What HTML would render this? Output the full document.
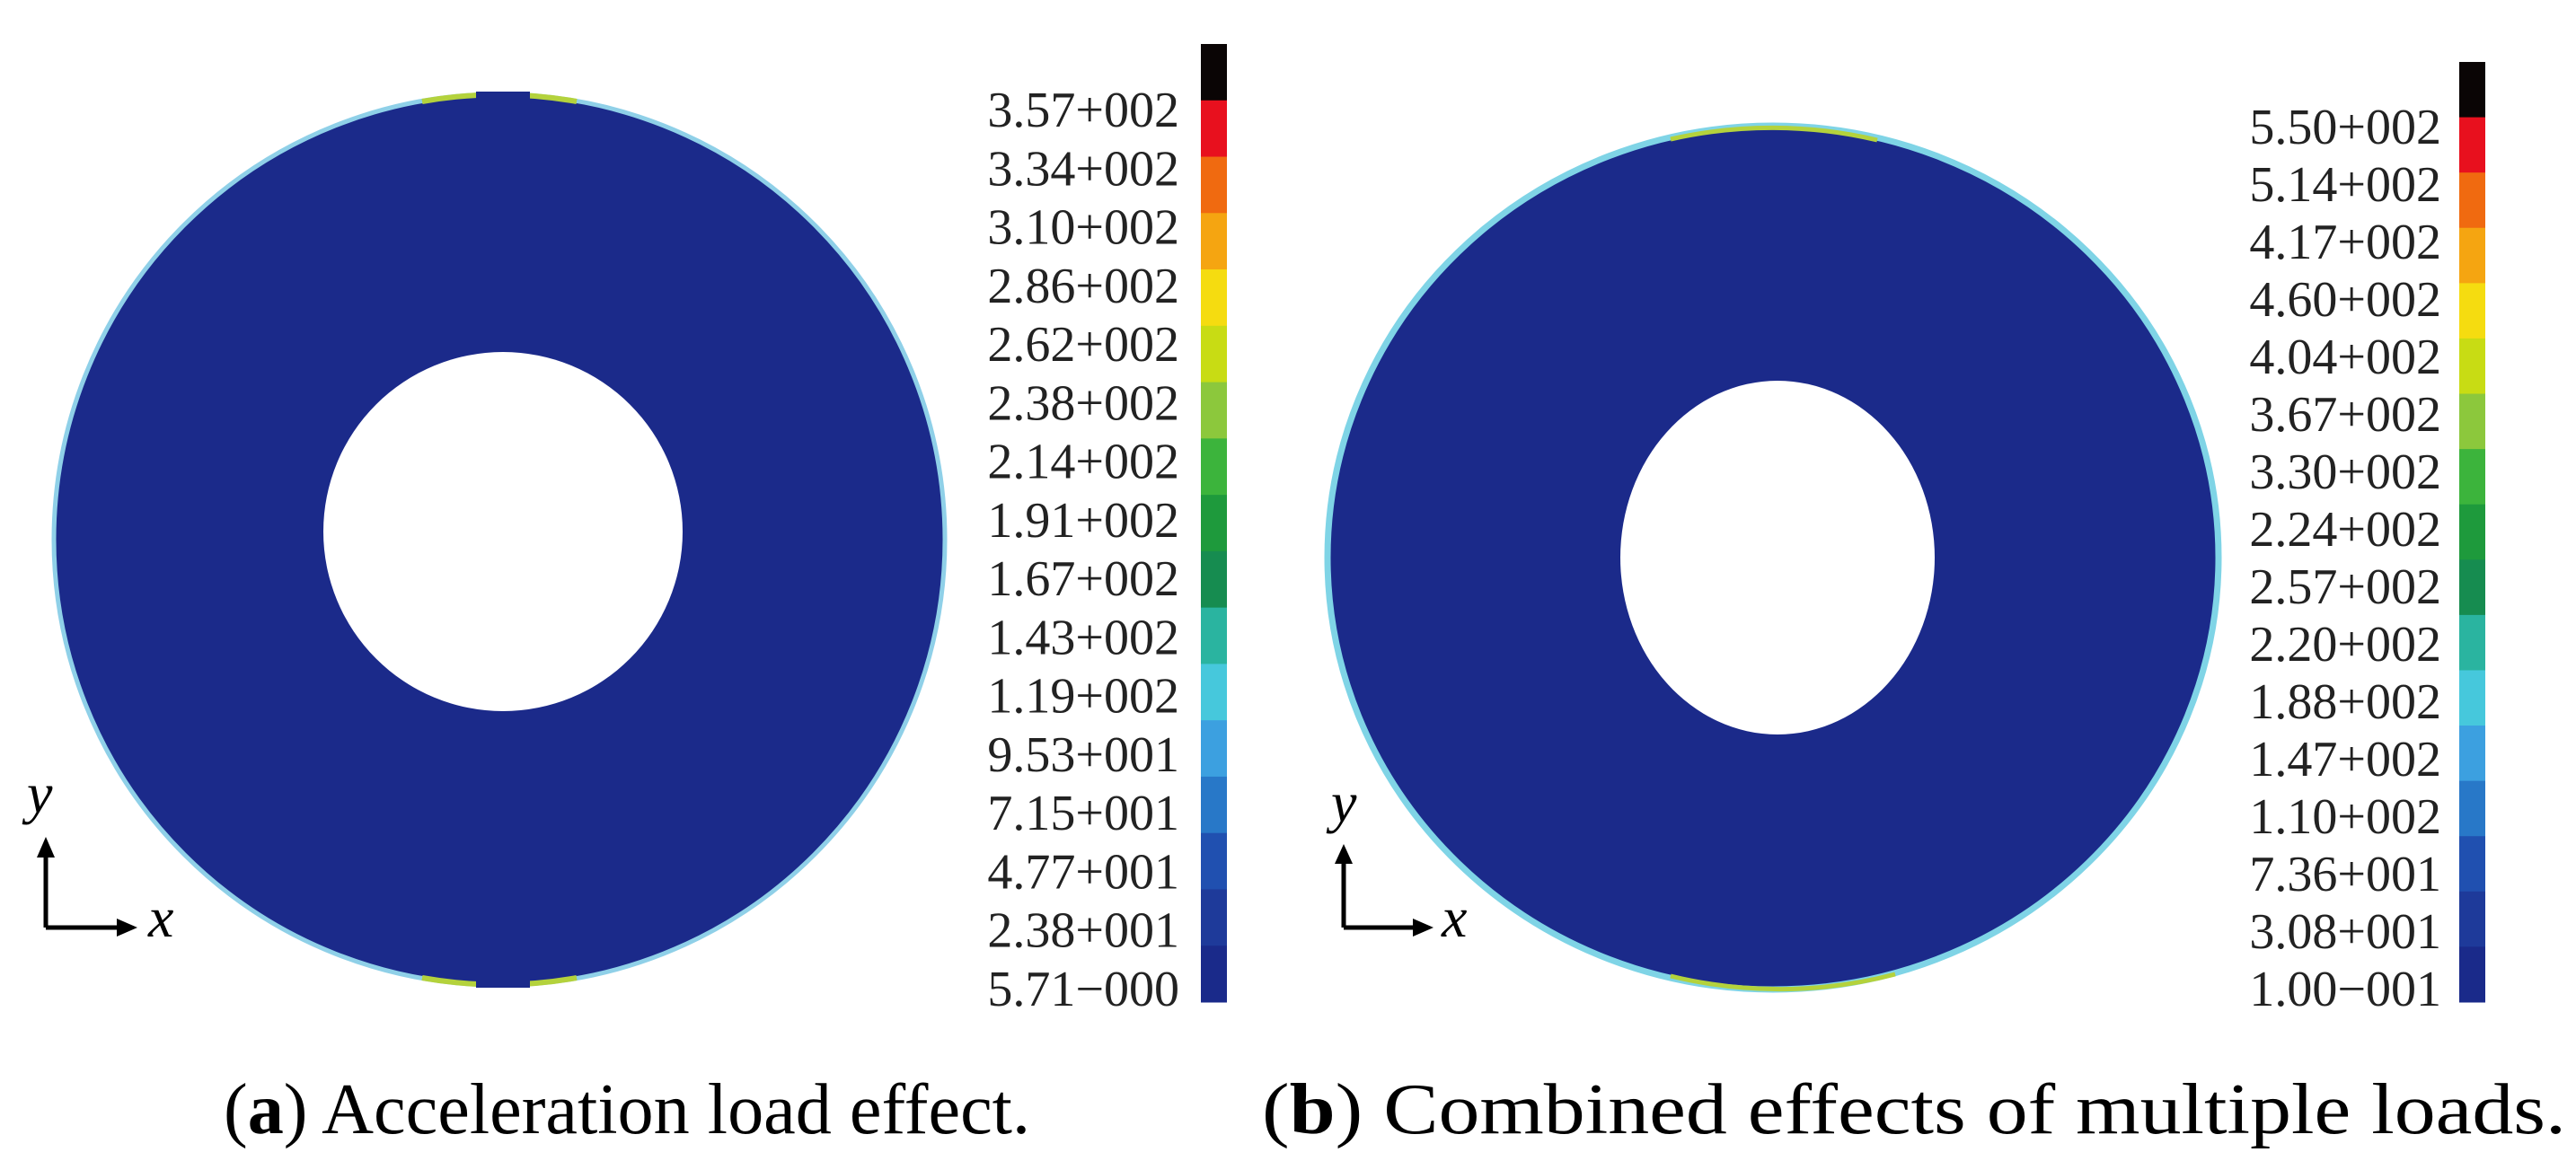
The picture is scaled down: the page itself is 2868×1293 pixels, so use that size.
<!DOCTYPE html>
<html><head><meta charset="utf-8"><style>
html,body{margin:0;padding:0;background:#fff;}
svg{display:block;}
text{font-family:"Liberation Serif",serif;}
</style></head><body>
<svg id="fig" width="2868" height="1293" viewBox="0 0 2868 1293" xmlns="http://www.w3.org/2000/svg">
  <g id="panelA">
    <circle cx="556" cy="601" r="496" fill="#1b2a8a" stroke="#8fd0e8" stroke-width="5"/>
    <path d="M470 113 A490 490 0 0 1 642 113" fill="none" stroke="#b4d23c" stroke-width="6"/>
    <path d="M470 1089 A490 490 0 0 0 642 1089" fill="none" stroke="#b4d23c" stroke-width="6"/>
    <rect x="530" y="102" width="60" height="16" fill="#1b2a8a"/>
    <rect x="530" y="1084" width="60" height="16" fill="#1b2a8a"/>
    <circle cx="560" cy="592" r="200" fill="#fff"/>
    <g>
      <text x="30" y="905" font-size="64" font-style="italic">y</text>
      <line x1="51" y1="950" x2="51" y2="1033" stroke="#000" stroke-width="5"/>
      <polygon points="41,955 51,932 61,955" fill="#000"/>
      <line x1="51" y1="1033" x2="135" y2="1033" stroke="#000" stroke-width="5"/>
      <polygon points="130,1023 153,1033 130,1043" fill="#000"/>
      <text x="165" y="1043" font-size="64" font-style="italic">x</text>
    </g>
    <g id="cbA"></g>
    <text x="249" y="1262" font-size="80" textLength="898" lengthAdjust="spacingAndGlyphs">(<tspan font-weight="bold">a</tspan>) Acceleration load effect.</text>
  </g>
  <g id="panelB">
    <ellipse cx="1974" cy="621" rx="496" ry="481" fill="#1b2a8a" stroke="#7fd4e6" stroke-width="7"/>
    <path d="M1860 155 A494 479 0 0 1 2090 156" fill="none" stroke="#b4d23c" stroke-width="5"/>
    <path d="M1860 1087 A494 479 0 0 0 2110 1085" fill="none" stroke="#b4d23c" stroke-width="5"/>
    <ellipse cx="1979" cy="621" rx="175" ry="197" fill="#fff"/>
    <g>
      <text x="1482" y="915" font-size="64" font-style="italic">y</text>
      <line x1="1496" y1="958" x2="1496" y2="1033" stroke="#000" stroke-width="5"/>
      <polygon points="1486,962 1496,940 1506,962" fill="#000"/>
      <line x1="1496" y1="1033" x2="1578" y2="1033" stroke="#000" stroke-width="5"/>
      <polygon points="1573,1023 1596,1033 1573,1043" fill="#000"/>
      <text x="1605" y="1043" font-size="64" font-style="italic">x</text>
    </g>
    <g id="cbB"></g>
    <text x="1405" y="1262" font-size="80" textLength="1452" lengthAdjust="spacingAndGlyphs">(<tspan font-weight="bold">b</tspan>) Combined effects of multiple loads.</text>
  </g>
</svg>
<script>
const labelsA = ["3.57+002","3.34+002","3.10+002","2.86+002","2.62+002","2.38+002","2.14+002","1.91+002","1.67+002","1.43+002","1.19+002","9.53+001","7.15+001","4.77+001","2.38+001","5.71\u2212000"];
const labelsB = ["5.50+002","5.14+002","4.17+002","4.60+002","4.04+002","3.67+002","3.30+002","2.24+002","2.57+002","2.20+002","1.88+002","1.47+002","1.10+002","7.36+001","3.08+001","1.00\u2212001"];
const bandColors = ["#0a0505","#e8101e","#f06a10","#f5a511","#f5dc10","#c8dc14","#8cc83c","#3cb43c","#1e9a3c","#168c50","#2ab4a0","#46c8dc","#3ca0e0","#2878c8","#2050b0","#1e3a9a","#1a2a8a"];
const NS = "http://www.w3.org/2000/svg";
function drawBar(gid, labels, barX, top, bottom, labelRight, firstY, lastY) {
  const g = document.getElementById(gid);
  const n = bandColors.length;
  const h = (bottom - top) / n;
  bandColors.forEach((c, i) => {
    const r = document.createElementNS(NS, "rect");
    
    
    r.setAttribute("x", barX); r.setAttribute("y", top + i * h);
    r.setAttribute("width", 29); r.setAttribute("height", h + 0.5);
    r.setAttribute("fill", c);
    g.appendChild(r);
  });
  const step = (lastY - firstY) / (labels.length - 1);
  labels.forEach((t, i) => {
    const tx = document.createElementNS(NS, "text");
    
    
    tx.setAttribute("x", labelRight); tx.setAttribute("y", firstY + i * step + 19);
    tx.setAttribute("text-anchor", "end"); tx.setAttribute("font-size", "56");
    tx.setAttribute("fill", "#222");
    tx.textContent = t;
    g.appendChild(tx);
  });
}
drawBar("cbA", labelsA, 1337, 49, 1116, 1313, 122, 1101);
drawBar("cbB", labelsB, 2738, 69, 1116, 2718, 141, 1101);
</script>
</body></html>
